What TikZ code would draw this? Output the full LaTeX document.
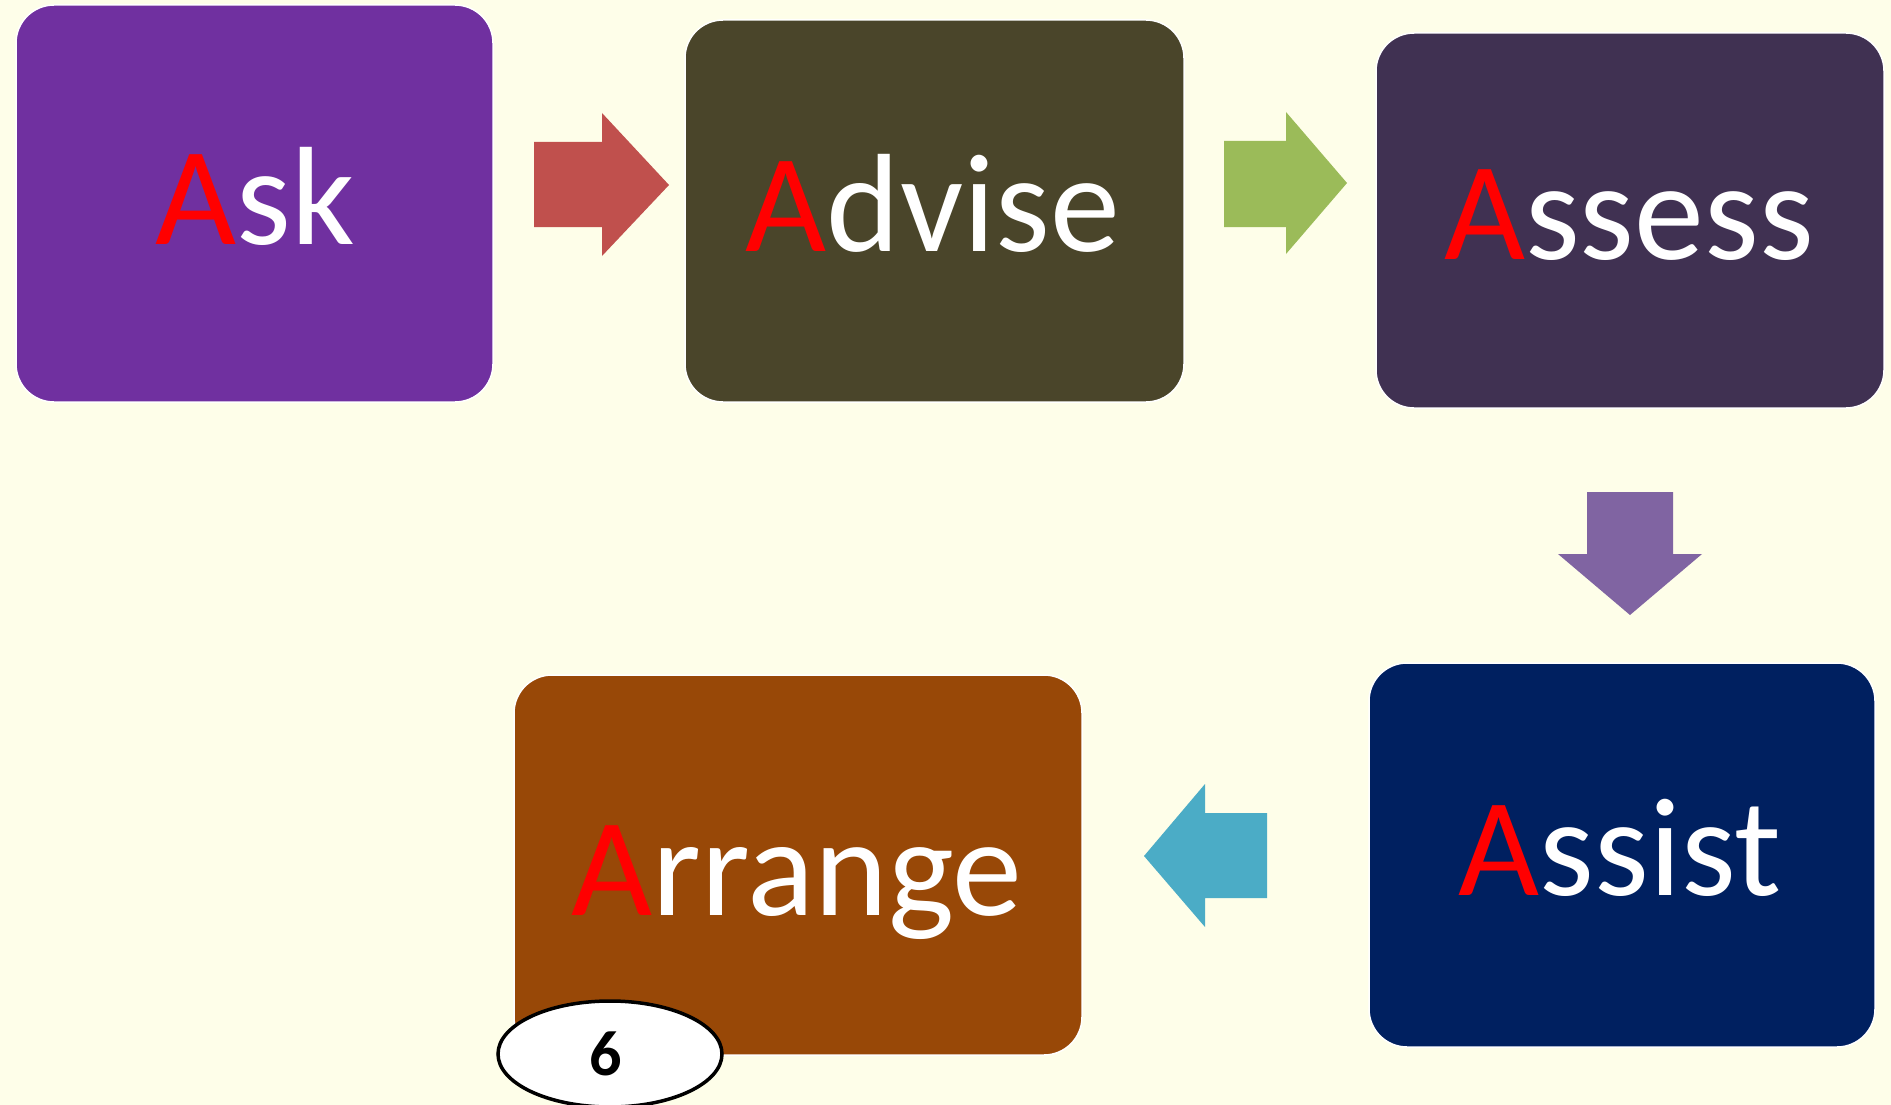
\documentclass[tikz,border=0pt]{standalone}
\usepackage{fontspec}
\setmainfont{Carlito}
\usetikzlibrary{shapes.geometric}
\definecolor{bgc}{HTML}{FEFEE9}
\definecolor{askc}{HTML}{7030A0}
\definecolor{advc}{HTML}{4A452A}
\definecolor{assc}{HTML}{403152}
\definecolor{asic}{HTML}{002060}
\definecolor{arrc}{HTML}{984807}
\definecolor{redar}{HTML}{C0504D}
\definecolor{grnar}{HTML}{9BBB59}
\definecolor{purar}{HTML}{8064A2}
\definecolor{bluar}{HTML}{4BACC6}
\definecolor{capA}{HTML}{FF0000}
\begin{document}
\begin{tikzpicture}[x=1pt,y=-1pt,
  boxsty/.style={draw=white, line width=1.5pt, rounded corners=38pt, inner sep=0pt},
  wordsty/.style={anchor=base, inner sep=0pt, text=white, font=\fontsize{140}{168}\selectfont}]
\clip (0,0) rectangle (1891,1105);
\fill[bgc] (0,0) rectangle (1891,1105);
% boxes
\node[boxsty, fill=askc, minimum width=477pt, minimum height=397pt] (ask) at (254.5,203.5) {};
\node[boxsty, fill=advc, minimum width=499pt, minimum height=382pt] (adv) at (934.5,211) {};
\node[boxsty, fill=assc, minimum width=508pt, minimum height=375pt] (ass) at (1630,220.5) {};
\node[boxsty, fill=asic, minimum width=506pt, minimum height=384pt] (asi) at (1622,855) {};
\node[boxsty, fill=arrc, minimum width=568pt, minimum height=380pt] (arr) at (798,865) {};
% words
\node[wordsty] (tAsk) at (255,244) {\textcolor{capA}{A}sk};
\node[wordsty] (tAdv) at (933,251) {\textcolor{capA}{A}dvise};
\node[wordsty] (tAss) at (1629,259) {\textcolor{capA}{A}ssess};
\node[wordsty] (tAsi) at (1620,895) {\textcolor{capA}{A}ssist};
\node[wordsty] (tArr) at (797,915) {\textcolor{capA}{A}rrange};
% block arrows
\fill[redar] (534,142) -- (602,142) -- (602,113) -- (669,185) -- (602,256) -- (602,227) -- (534,227) -- cycle;
\fill[grnar] (1224,141) -- (1286,141) -- (1286,112) -- (1347,183) -- (1286,254) -- (1286,227) -- (1224,227) -- cycle;
\fill[purar] (1587,492) -- (1673,492) -- (1673,554) -- (1702,554) -- (1630,615) -- (1558,554) -- (1587,554) -- cycle;
\fill[bluar] (1267,813) -- (1205,813) -- (1205,784) -- (1144,856) -- (1205,927) -- (1205,898) -- (1267,898) -- cycle;
% page number
\node[draw=black, fill=white, line width=3.5pt, ellipse, minimum width=224pt, minimum height=106pt, inner sep=0pt] (pg) at (610,1054) {};
\node[anchor=base, inner sep=0pt, font=\bfseries\fontsize{64}{76}\selectfont] (pgn) at (606,1075) {6};
\end{tikzpicture}
\end{document}
